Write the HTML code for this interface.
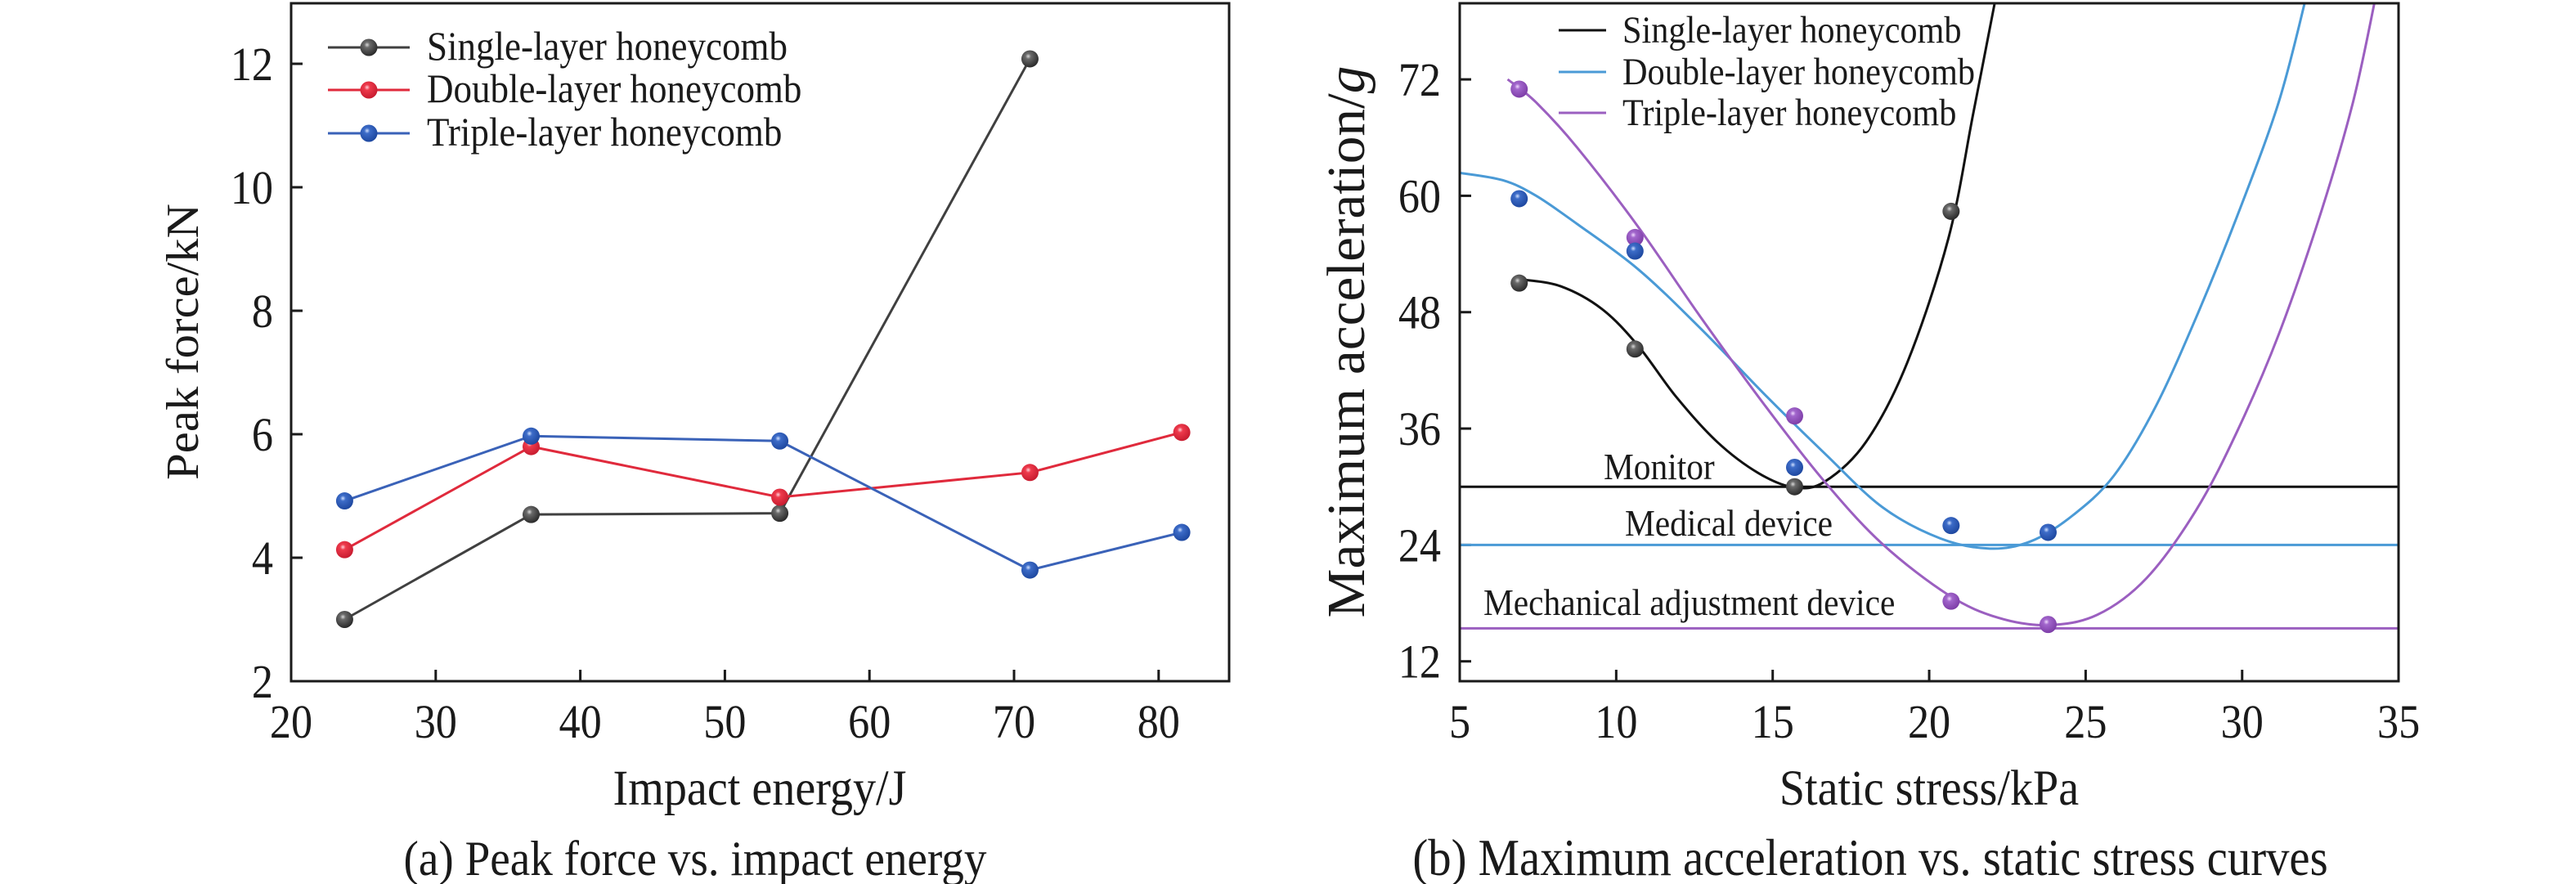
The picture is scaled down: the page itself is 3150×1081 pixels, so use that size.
<!DOCTYPE html>
<html><head><meta charset="utf-8">
<style>
html,body{margin:0;padding:0;background:#fff;}
svg{display:block;}
text{font-family:"Liberation Serif","Times New Roman",serif;fill:#1a1a1a;}
</style></head>
<body>
<svg id="s" width="3150" height="1081" viewBox="0 0 3150 1081" xmlns="http://www.w3.org/2000/svg">
<defs>
<radialGradient id="gk" cx="0.4" cy="0.35" r="0.65"><stop offset="0" stop-color="#d8d8d8"/><stop offset="0.25" stop-color="#6a6a6a"/><stop offset="1" stop-color="#2a2a2a"/></radialGradient>
<radialGradient id="gr" cx="0.4" cy="0.35" r="0.65"><stop offset="0" stop-color="#ffd0d8"/><stop offset="0.25" stop-color="#ee3a4c"/><stop offset="1" stop-color="#c81c30"/></radialGradient>
<radialGradient id="gb" cx="0.4" cy="0.35" r="0.65"><stop offset="0" stop-color="#d0e0ff"/><stop offset="0.25" stop-color="#3d6cc8"/><stop offset="1" stop-color="#1e48a0"/></radialGradient>
<radialGradient id="gp" cx="0.4" cy="0.35" r="0.65"><stop offset="0" stop-color="#f0d8ff"/><stop offset="0.25" stop-color="#a266cc"/><stop offset="1" stop-color="#7e3ea8"/></radialGradient>
</defs>
</svg>
<script>
const S=document.getElementById('s'),NS='http://www.w3.org/2000/svg';
function el(t,a,txt){const e=document.createElementNS(NS,t);for(const k in a)e.setAttribute(k,a[k]);if(txt!==undefined)e.textContent=txt;S.appendChild(e);return e;}
function tx(x,y,s,fs,anchor,sx,rot){const e=el('text',{x:0,y:0,'font-size':fs,'text-anchor':anchor||'start',transform:`translate(${x},${y}) rotate(${rot||0}) scale(${sx||1},1)`});e.innerHTML=s;return e;}
function ln(x1,y1,x2,y2,c,w){el('line',{x1,y1,x2,y2,stroke:c,'stroke-width':w});}
function ball(x,y,g){el('circle',{cx:x,cy:y,r:10.5,fill:`url(#${g})`});}

// ---------- Left panel ----------
const L={x0:356,x1:1503,y0:4,y1:833};
const lx=v=>356+(v-20)*17.68, ly=v=>833-(v-2)*75.5;
el('rect',{x:L.x0,y:L.y0,width:L.x1-L.x0,height:L.y1-L.y0,fill:'none',stroke:'#1a1a1a','stroke-width':3});
for(let v=30;v<=80;v+=10){ln(lx(v),833,lx(v),819,'#1a1a1a',3);}
for(let v=20;v<=80;v+=10){tx(lx(v),902,String(v),58,'middle',0.9);}
for(let v=4;v<=12;v+=2){ln(356,ly(v),370,ly(v),'#1a1a1a',3);}
for(let v=2;v<=12;v+=2){tx(334,ly(v)+20,String(v),58,'end',0.9);}
tx(242,418,'Peak force/kN',56,'middle',1.05,-90);
tx(929,984,'Impact energy/J',61,'middle',0.92);
tx(850,1070,'(a) Peak force vs. impact energy',60,'middle',0.92);
const xs=[23.7,36.6,53.8,71.1,81.6];
const series=[
 {c:'#404040',g:'gk',d:[3.0,4.7,4.72,12.08]},
 {c:'#e02a3c',g:'gr',d:[4.13,5.8,4.98,5.38,6.03]},
 {c:'#3a62b8',g:'gb',d:[4.92,5.97,5.89,3.8,4.41]}];
series.forEach(s=>{el('polyline',{points:s.d.map((v,i)=>lx(xs[i])+','+ly(v)).join(' '),fill:'none',stroke:s.c,'stroke-width':3});});
series.forEach(s=>{s.d.forEach((v,i)=>ball(lx(xs[i]),ly(v),s.g));});
const leg=['Single-layer honeycomb','Double-layer honeycomb','Triple-layer honeycomb'];
[58,110,163].forEach((y,i)=>{ln(401,y,501,y,series[i].c,3);ball(451,y,series[i].g);tx(522,y+15,leg[i],50,'start',0.9);});

// ---------- Right panel ----------
const R={x0:1785,x1:2933,y0:4,y1:833};
const rx=v=>1785+(v-5)*38.27, ry=v=>808.7-(v-12)*11.86;
el('clipPath',{id:'cp'});
const cp=S.lastChild;const cr=document.createElementNS(NS,'rect');cr.setAttribute('x',R.x0);cr.setAttribute('y',R.y0);cr.setAttribute('width',R.x1-R.x0);cr.setAttribute('height',R.y1-R.y0);cp.appendChild(cr);
for(let v=10;v<=30;v+=5){ln(rx(v),833,rx(v),819,'#1a1a1a',3);}
for(let v=5;v<=35;v+=5){tx(rx(v),902,String(v),58,'middle',0.9);}
for(let v=12;v<=72;v+=12){ln(1785,ry(v),1799,ry(v),'#1a1a1a',3);tx(1762,ry(v)+20,String(v),58,'end',0.9);}
tx(1668,418,'Maximum acceleration/<tspan font-style="italic">g</tspan>',66,'middle',1.02,-90);
tx(2359,984,'Static stress/kPa',61,'middle',0.92);
tx(2287,1070,'(b) Maximum acceleration vs. static stress curves',63,'middle',0.9);
ln(1785,ry(30),2933,ry(30),'#111',3);
ln(1785,ry(24),2933,ry(24),'#4a9ad6',3);
ln(1785,ry(15.4),2933,ry(15.4),'#9b5fc0',3);
tx(1961,586,'Monitor',46,'start',0.9);
tx(1987,655,'Medical device',46,'start',0.9);
tx(1814,752,'Mechanical adjustment device',46,'start',0.9);
function cv(pts){const p=pts.map(([a,b])=>[1575+a*1.0096,b/1.443]);let d='M'+p[0][0]+','+p[0][1];
 for(let i=0;i<p.length-1;i++){const p0=p[i-1]||p[i],p1=p[i],p2=p[i+1],p3=p[i+2]||p2;
  const c1=[p1[0]+(p2[0]-p0[0])/6,p1[1]+(p2[1]-p0[1])/6],c2=[p2[0]-(p3[0]-p1[0])/6,p2[1]-(p3[1]-p1[1])/6];
  d+=` C${c1[0]},${c1[1]} ${c2[0]},${c2[1]} ${p2[0]},${p2[1]}`;}return d;}
const cs=[
 {c:'#111',pts:[[282,493],[330,505],[380,545],[424,610],[470,700],[520,780],[570,835],[613,860],[650,850],[700,780],[750,640],[800,420],[830,200],[858,-10]]},
 {c:'#4a9ad6',pts:[[208,305],[260,318],[300,345],[350,395],[424,475],[500,580],[580,700],[650,800],[720,895],[790,950],[850,968],[900,955],[950,910],[1000,840],[1050,720],[1100,560],[1150,380],[1200,180],[1234,-10]]},
 {c:'#9b5fc0',pts:[[266,140],[300,180],[350,260],[424,400],[500,560],[580,720],[650,850],[720,960],[800,1050],[860,1090],[920,1103],[980,1085],[1040,1020],[1100,900],[1150,760],[1200,590],[1250,380],[1290,180],[1318,-10]]}];
cs.forEach(c=>el('path',{d:cv(c.pts),fill:'none',stroke:c.c,'stroke-width':3,'clip-path':'url(#cp)'}));
el('rect',{x:R.x0,y:R.y0,width:R.x1-R.x0,height:R.y1-R.y0,fill:'none',stroke:'#1a1a1a','stroke-width':3});
const rxs=[6.9,10.6,15.7,20.7,23.8];
const single=[51,44.2,30,58.4],dbl=[59.7,54.3,32,26,25.3],tri=[71,55.7,37.3,18.2,15.8];
tri.forEach((v,i)=>ball(rx(rxs[i]),ry(v),'gp'));
dbl.forEach((v,i)=>ball(rx(rxs[i]),ry(v),'gb'));
single.forEach((v,i)=>ball(rx(rxs[i]),ry(v),'gk'));
const lc=['#111','#4a9ad6','#9b5fc0'];
[37,88,138].forEach((y,i)=>{ln(1906,y,1964,y,lc[i],3);tx(1984,y+15,leg[i],47,'start',0.9);});
</script>
</body></html>
